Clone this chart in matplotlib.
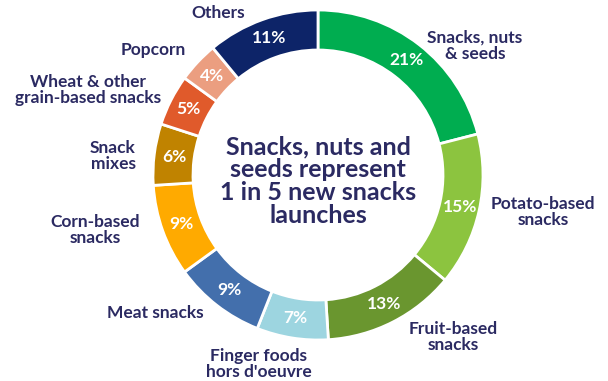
import matplotlib
matplotlib.use("Agg")
import matplotlib.pyplot as plt
import numpy as np

categories = ["Snacks, nuts\n& seeds", "Potato-based\nsnacks", "Fruit-based\nsnacks",
              "Finger foods\nhors d'oeuvre", "Meat snacks", "Corn-based\nsnacks",
              "Snack\nmixes", "Wheat & other\ngrain-based snacks", "Popcorn", "Others"]
values = [21, 15, 13, 7, 9, 9, 6, 5, 4, 11]
colors = ["#00AD50", "#8CC43F", "#6A962F", "#9DD5E0", "#436FAC", "#FFAA00",
          "#C08300", "#E05A2B", "#EB9E80", "#0D2468"]
center_text = "Snacks, nuts and\nseeds represent\n1 in 5 new snacks\nlaunches"

# label positions in pixel coords (x, y from top)
label_pos = [(475, 46), (543, 212), (453, 337), (259, 364), (155, 313),
             (95, 230), (113, 156), (88, 90), (153, 50), (218, 13)]

W, H = 608, 381
fig = plt.figure(figsize=(W / 100, H / 100), dpi=100)
ax = fig.add_axes([0, 0, 1, 1])
ax.set_xlim(0, W)
ax.set_ylim(0, H)
ax.set_aspect("equal")
ax.axis("off")

cx, cy, R = 318, H - 175, 165
wedges, _, autotexts = ax.pie(values, colors=colors, startangle=90, counterclock=False,
                              center=(cx, cy), radius=R,
                              wedgeprops=dict(width=40, edgecolor="white", linewidth=2),
                              autopct=lambda p: f"{p:.0f}%", pctdistance=0.88,
                              textprops=dict(color="white", fontsize=12.5, fontweight="bold",
                                             family="Lato"))
ax.set_xlim(0, W)
ax.set_ylim(0, H)

navy = "#2B2A62"
for lab, (x, y) in zip(categories, label_pos):
    ax.text(x, H - y, lab, ha="center", va="center", fontsize=12.5, fontweight="bold",
            color=navy, family="Lato", linespacing=1.0)

ax.text(cx, cy - 6, center_text, ha="center", va="center", fontsize=18,
        fontweight="bold", color=navy, family="Lato", linespacing=1.0)

fig.savefig("out.png", dpi=100)
